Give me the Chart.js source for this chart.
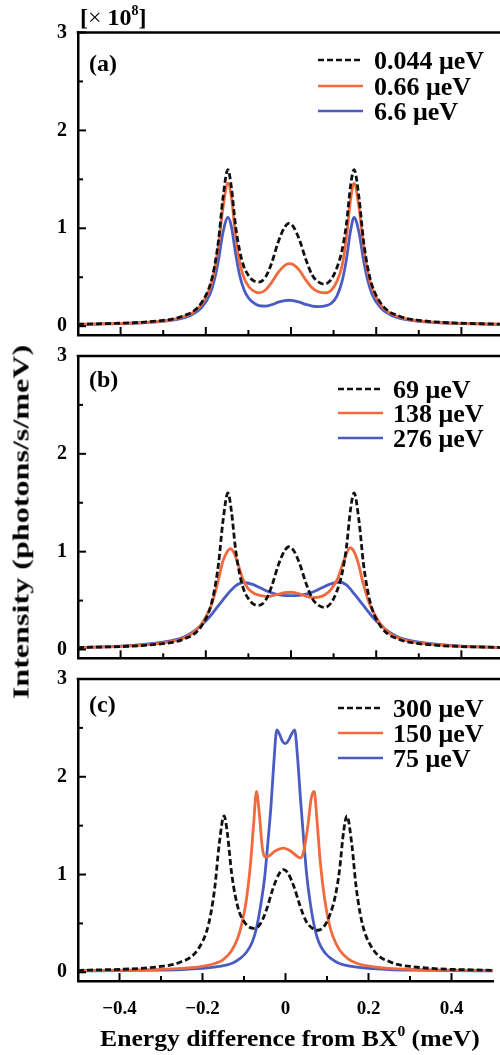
<!DOCTYPE html>
<html><head><meta charset="utf-8">
<script src="https://cdn.jsdelivr.net/npm/chart.js@4"></script>
<style>
html,body{margin:0;padding:0;width:500px;height:1055px;overflow:hidden;background:#fff;}
body{position:relative;font-family:"Liberation Serif","Times New Roman",serif;color:#000;}
.pc{position:absolute;left:0;}
.pc canvas{display:block;}
.t{position:absolute;white-space:nowrap;line-height:1;transform:translateY(-50%);font-weight:bold;}
</style></head>
<body>
<div class="pc" style="top:0px"><canvas id="cA" width="510" height="370"></canvas></div>
<div class="pc" style="top:320px"><canvas id="cB" width="510" height="370"></canvas></div>
<div class="pc" style="top:640px"><canvas id="cC" width="510" height="415"></canvas></div>
<div class="t" style="left:80px;top:16px;font-size:24px;">[<span style="font-weight:normal">×</span> 10<sup style="font-size:14px;vertical-align:10px;">8</sup>]</div>
<div class="t" style="left:89px;top:63px;font-size:24px;">(a)</div>
<div class="t" style="left:89px;top:379px;font-size:24px;">(b)</div>
<div class="t" style="left:89px;top:704px;font-size:24px;">(c)</div>
<div id="xt" class="t" style="left:290px;top:1037px;font-size:23px;">Energy difference from BX<sup style="font-size:14px;vertical-align:10px;">0</sup> (meV)</div>
<div id="yt" class="t" style="left:21px;top:522px;font-size:23px;">Intensity (photons/s/meV)</div>
<div id="legends"></div>
<script>
// ---- data (x in meV, y in 1e8 photons/s/meV) ----
const xTicksLabeled = [-0.4, -0.2, 0, 0.2, 0.4];
const yTicksLabeled = [0, 1, 2, 3];
const legendA = ["0.044 μeV", "0.66 μeV", "6.6 μeV"];
const legendB = ["69 μeV", "138 μeV", "276 μeV"];
const legendC = ["300 μeV", "150 μeV", "75 μeV"];

const blackCurve = [[-0.5,0.02],[-0.45,0.025],[-0.4,0.03],[-0.35,0.04],[-0.3,0.06],[-0.27,0.08],[-0.25,0.11],[-0.23,0.15],[-0.21,0.24],[-0.19,0.42],[-0.18,0.6],[-0.17,0.88],[-0.16,1.3],[-0.148,1.6],[-0.14,1.42],[-0.13,1.02],[-0.12,0.76],[-0.11,0.6],[-0.1,0.52],[-0.09,0.47],[-0.076,0.45],[-0.06,0.5],[-0.045,0.65],[-0.03,0.86],[-0.015,1.01],[-0.005,1.05],[0.005,1.02],[0.02,0.88],[0.035,0.68],[0.05,0.52],[0.065,0.45],[0.078,0.43],[0.093,0.47],[0.108,0.6],[0.12,0.78],[0.13,1.04],[0.14,1.44],[0.148,1.6],[0.16,1.3],[0.17,0.88],[0.18,0.6],[0.19,0.42],[0.21,0.24],[0.23,0.15],[0.25,0.11],[0.27,0.08],[0.3,0.06],[0.35,0.04],[0.4,0.03],[0.45,0.025],[0.5,0.02]];

const orangeA = [[-0.5,0.02],[-0.45,0.024],[-0.4,0.028],[-0.35,0.037],[-0.3,0.055],[-0.27,0.075],[-0.25,0.1],[-0.23,0.14],[-0.21,0.22],[-0.19,0.39],[-0.18,0.56],[-0.17,0.83],[-0.16,1.2],[-0.148,1.46],[-0.14,1.32],[-0.13,0.92],[-0.12,0.64],[-0.11,0.49],[-0.1,0.41],[-0.09,0.365],[-0.075,0.34],[-0.06,0.37],[-0.045,0.45],[-0.03,0.55],[-0.015,0.62],[-0.005,0.64],[0.005,0.63],[0.02,0.57],[0.035,0.47],[0.05,0.39],[0.065,0.35],[0.08,0.34],[0.095,0.37],[0.108,0.46],[0.12,0.62],[0.13,0.9],[0.14,1.3],[0.148,1.46],[0.16,1.2],[0.17,0.83],[0.18,0.56],[0.19,0.39],[0.21,0.22],[0.23,0.14],[0.25,0.1],[0.27,0.075],[0.3,0.055],[0.35,0.037],[0.4,0.028],[0.45,0.024],[0.5,0.02]];

const blueA = [[-0.5,0.018],[-0.45,0.022],[-0.4,0.027],[-0.35,0.035],[-0.3,0.05],[-0.27,0.067],[-0.25,0.088],[-0.23,0.125],[-0.21,0.19],[-0.19,0.33],[-0.18,0.47],[-0.17,0.68],[-0.16,0.95],[-0.148,1.11],[-0.14,1.02],[-0.13,0.74],[-0.12,0.51],[-0.11,0.37],[-0.1,0.29],[-0.09,0.245],[-0.075,0.21],[-0.06,0.205],[-0.045,0.22],[-0.03,0.245],[-0.015,0.26],[-0.005,0.265],[0.005,0.26],[0.02,0.245],[0.035,0.222],[0.05,0.205],[0.065,0.2],[0.08,0.207],[0.095,0.235],[0.108,0.31],[0.12,0.46],[0.13,0.68],[0.14,0.98],[0.148,1.11],[0.16,0.95],[0.17,0.68],[0.18,0.47],[0.19,0.33],[0.21,0.19],[0.23,0.125],[0.25,0.088],[0.27,0.067],[0.3,0.05],[0.35,0.035],[0.4,0.027],[0.45,0.022],[0.5,0.018]];

const orangeB = [[-0.5,0.02],[-0.45,0.025],[-0.4,0.032],[-0.35,0.045],[-0.3,0.068],[-0.27,0.092],[-0.25,0.12],[-0.23,0.17],[-0.21,0.26],[-0.19,0.42],[-0.18,0.55],[-0.17,0.72],[-0.16,0.9],[-0.15,1.0],[-0.142,1.03],[-0.134,0.99],[-0.125,0.88],[-0.112,0.71],[-0.1,0.62],[-0.085,0.57],[-0.07,0.55],[-0.055,0.54],[-0.035,0.56],[-0.015,0.58],[0.0,0.585],[0.015,0.575],[0.035,0.545],[0.05,0.53],[0.065,0.535],[0.08,0.56],[0.095,0.62],[0.11,0.73],[0.125,0.92],[0.139,1.04],[0.148,1.0],[0.158,0.88],[0.168,0.7],[0.18,0.52],[0.19,0.41],[0.21,0.26],[0.23,0.17],[0.25,0.12],[0.27,0.092],[0.3,0.068],[0.35,0.045],[0.4,0.032],[0.45,0.025],[0.5,0.02]];

const blueB = [[-0.5,0.02],[-0.45,0.026],[-0.4,0.035],[-0.35,0.05],[-0.3,0.075],[-0.27,0.1],[-0.25,0.13],[-0.23,0.18],[-0.21,0.25],[-0.19,0.34],[-0.17,0.45],[-0.15,0.56],[-0.13,0.65],[-0.111,0.685],[-0.09,0.665],[-0.07,0.625],[-0.05,0.585],[-0.03,0.56],[-0.01,0.55],[0.01,0.55],[0.03,0.56],[0.05,0.585],[0.07,0.625],[0.09,0.665],[0.114,0.69],[0.13,0.66],[0.15,0.56],[0.17,0.45],[0.19,0.34],[0.21,0.25],[0.23,0.18],[0.25,0.13],[0.27,0.1],[0.3,0.075],[0.35,0.05],[0.4,0.035],[0.45,0.026],[0.5,0.02]];

const orangeC = [[-0.5,0.018],[-0.4,0.022],[-0.3,0.03],[-0.25,0.04],[-0.2,0.06],[-0.17,0.09],[-0.15,0.13],[-0.13,0.22],[-0.115,0.35],[-0.105,0.5],[-0.095,0.72],[-0.085,1.08],[-0.077,1.5],[-0.07,1.85],[-0.063,1.62],[-0.056,1.28],[-0.05,1.18],[-0.04,1.19],[-0.025,1.24],[-0.005,1.27],[0.012,1.24],[0.027,1.19],[0.036,1.17],[0.044,1.24],[0.054,1.5],[0.062,1.78],[0.069,1.85],[0.076,1.55],[0.084,1.12],[0.094,0.76],[0.104,0.52],[0.114,0.37],[0.13,0.23],[0.15,0.14],[0.17,0.095],[0.2,0.062],[0.25,0.04],[0.3,0.03],[0.4,0.022],[0.5,0.018]];

const blueC = [[-0.5,0.015],[-0.4,0.018],[-0.3,0.022],[-0.25,0.028],[-0.2,0.04],[-0.16,0.06],[-0.13,0.09],[-0.11,0.14],[-0.095,0.2],[-0.08,0.31],[-0.07,0.45],[-0.06,0.68],[-0.05,0.98],[-0.042,1.35],[-0.035,1.7],[-0.028,2.15],[-0.021,2.48],[-0.014,2.43],[-0.007,2.36],[0.0,2.34],[0.007,2.37],[0.015,2.44],[0.022,2.48],[0.029,2.2],[0.036,1.78],[0.043,1.4],[0.051,1.0],[0.06,0.7],[0.07,0.46],[0.08,0.31],[0.095,0.2],[0.11,0.14],[0.13,0.09],[0.16,0.06],[0.2,0.04],[0.25,0.028],[0.3,0.022],[0.4,0.018],[0.5,0.015]];

// ---- styles ----
const BLACK = '#111111', ORANGE = '#f2693d', BLUE = '#4a5cc2';
const FONT = '"Liberation Serif","Times New Roman",serif';

const framePlugin = {
  id: 'frame',
  afterDraw(chart) {
    const {ctx, chartArea: a, scales: {x, y}} = chart;
    ctx.save();
    ctx.strokeStyle = '#000';
    ctx.lineWidth = 2.5;
    ctx.beginPath(); ctx.moveTo(a.left - 1.25, a.top); ctx.lineTo(chart.width, a.top); ctx.stroke();
    ctx.lineWidth = 2;
    y.ticks.forEach(t => {
      const py = y.getPixelForValue(t.value);
      const len = yTicksLabeled.includes(t.value) ? 8 : 5;
      ctx.beginPath(); ctx.moveTo(a.left, py); ctx.lineTo(a.left + len, py); ctx.stroke();
    });
    x.ticks.forEach(t => {
      const v = Math.round(t.value * 10) / 10;
      if (Math.abs(v) >= 0.5) return;
      const px = x.getPixelForValue(v);
      const len = xTicksLabeled.includes(v) ? 8 : 5;
      ctx.beginPath(); ctx.moveTo(px, a.bottom); ctx.lineTo(px, a.bottom - len); ctx.stroke();
    });
    ctx.restore();
  }
};

function ds(arr, color, dashed) {
  return {
    data: arr.map(([x, y]) => ({x, y})),
    borderColor: color, borderWidth: 2.8,
    borderDash: dashed ? [6, 3] : [],
    pointRadius: 0, fill: false, cubicInterpolationMode: 'monotone'
  };
}

function panel(id, canvasTop, canvasH, plotTop, plotBottom, datasets, showX) {
  new Chart(document.getElementById(id), {
    type: 'line',
    data: {datasets},
    plugins: [framePlugin],
    options: {
      responsive: false, animation: false, devicePixelRatio: 1,
      layout: {autoPadding: false, padding: {top: plotTop - canvasTop, left: 0, right: 6, bottom: 0}},
      plugins: {legend: {display: false}, tooltip: {enabled: false}},
      scales: {
        x: {
          type: 'linear', min: -0.5, max: 0.5,
          afterFit: s => { s.height = canvasTop + canvasH - plotBottom; },
          grid: {display: false, drawTicks: false},
          border: {display: true, color: '#000', width: 2.5},
          ticks: {
            display: showX, stepSize: 0.1, autoSkip: false, maxRotation: 0, padding: 17,
            color: '#000', font: {family: FONT, size: 19, weight: 'bold'},
            callback: v => {
              const r = Math.round(v * 10) / 10;
              if (!xTicksLabeled.includes(r)) return '';
              return r === 0 ? '0' : (r < 0 ? '\u2212' : '') + Math.abs(r).toFixed(1);
            }
          }
        },
        y: {
          min: -0.09, max: 3,
          afterFit: s => { s.width = 78; },
          grid: {display: false, drawTicks: false},
          border: {display: true, color: '#000', width: 2.5},
          ticks: {
            stepSize: 0.5, includeBounds: false, padding: 11,
            color: '#000', font: {family: FONT, size: 20, weight: 'bold'},
            callback: v => yTicksLabeled.includes(v) ? String(v) : ''
          }
        }
      }
    }
  });
}

panel('cA', 0, 370, 32.5, 335, [ds(blackCurve, BLACK, true), ds(orangeA, ORANGE), ds(blueA, BLUE)], false);
panel('cB', 320, 370, 356, 658.3, [ds(blackCurve, BLACK, true), ds(orangeB, ORANGE), ds(blueB, BLUE)], false);
panel('cC', 640, 415, 679, 981.1, [ds(blackCurve, BLACK, true), ds(orangeC, ORANGE), ds(blueC, BLUE)], true);

// ---- legends ----
function legend(labels, lineX, textX, rows) {
  const colors = [BLACK, ORANGE, BLUE];
  const host = document.getElementById('legends');
  labels.forEach((lab, i) => {
    const y = rows[i];
    const svg = document.createElementNS('http://www.w3.org/2000/svg', 'svg');
    svg.setAttribute('width', 50); svg.setAttribute('height', 6);
    svg.style.position = 'absolute'; svg.style.left = lineX + 'px'; svg.style.top = (y - 3) + 'px';
    const ln = document.createElementNS('http://www.w3.org/2000/svg', 'line');
    ln.setAttribute('x1', 0); ln.setAttribute('x2', 45); ln.setAttribute('y1', 3); ln.setAttribute('y2', 3);
    ln.setAttribute('stroke', colors[i]); ln.setAttribute('stroke-width', 2.6);
    if (i === 0) ln.setAttribute('stroke-dasharray', '6 3');
    svg.appendChild(ln); host.appendChild(svg);
    const d = document.createElement('div');
    d.className = 't'; d.textContent = lab;
    d.style.left = textX + 'px'; d.style.top = (y + 1) + 'px'; d.style.fontSize = '26px';
    host.appendChild(d);
  });
}
legend(legendA, 318, 374, [60, 86, 111]);
legend(legendB, 338, 393, [389, 413, 438]);
legend(legendC, 338, 393, [708, 733, 758]);

// stretch axis titles to the span they occupy in the figure
function fit(id, target, rotate) {
  const el = document.getElementById(id);
  const s = target / el.offsetWidth;
  el.style.transform = 'translate(-50%,-50%)' + (rotate ? ' rotate(-90deg)' : '') + ' scaleX(' + s + ')';
}
fit('xt', 380, false);
fit('yt', 355, true);
</script>
</body></html>
